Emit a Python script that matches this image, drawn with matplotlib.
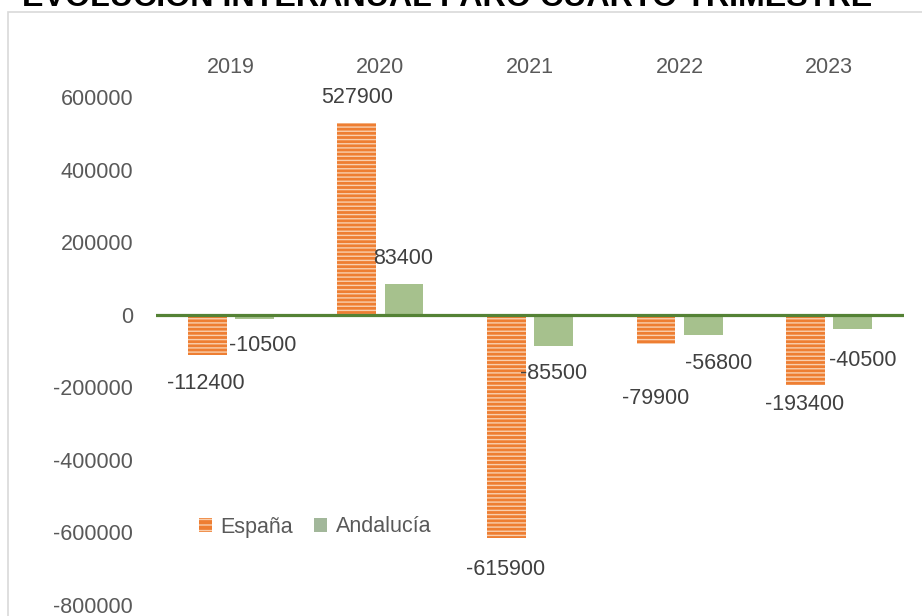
import matplotlib
matplotlib.use("Agg")
import matplotlib.pyplot as plt
from matplotlib.patches import Rectangle, Patch
import numpy as np

anios = ["2019", "2020", "2021", "2022", "2023"]
espana = [-112400, 527900, -615900, -79900, -193400]
andalucia = [-10500, 83400, -85500, -56800, -40500]
titulo = "EVOLUCIÓN INTERANUAL PARO CUARTO TRIMESTRE"

# desplazamiento de etiquetas (px) respecto al extremo de cada barra
desp_esp = [(-1, -28), (0, 26), (-1, -31), (0, -55), (-1, -20)]
desp_and = [(8, -27), (-1, 26), (0, -28), (15, -28), (10, -31)]

W, H = 922, 616
plt.rcParams['font.family'] = ['Liberation Sans', 'DejaVu Sans']
plt.rcParams['hatch.linewidth'] = 1.0

fig = plt.figure(figsize=(W / 100, H / 100), dpi=100)
ax = fig.add_axes([156 / W, (H - 605) / H, (904 - 156) / W, (605 - 97) / H])

x = np.arange(len(anios))
ancho = 0.26
sep = 0.158
gris = '#595959'

b1 = ax.bar(x - sep, espana, ancho, color='#EE7E32', edgecolor='#F9CFAE',
            hatch='----', linewidth=0, zorder=2)
b2 = ax.bar(x + sep, andalucia, ancho, color='#A6C18D', linewidth=0, zorder=2)

ax.axhline(0, color='#548235', lw=2.3, zorder=3)

for barras, vals, desp in [(b1, espana, desp_esp), (b2, andalucia, desp_and)]:
    for b, v, (dx, dy) in zip(barras, vals, desp):
        ax.annotate(str(v), (b.get_x() + b.get_width() / 2, v),
                    xytext=(dx * 0.72, dy * 0.72), textcoords='offset points',
                    ha='center', va='center', fontsize=15.5, color='#404040')

ax.set_xlim(-0.5, len(anios) - 0.5)
ax.set_ylim(-800000, 600000)
ax.set_yticks(np.arange(-800000, 600001, 200000))
ax.set_yticklabels([str(v) for v in np.arange(-800000, 600001, 200000)])
ax.set_xticks(x)
ax.set_xticklabels(anios)
ax.xaxis.tick_top()
ax.tick_params(axis='x', length=0, pad=14, labelsize=15.5, labelcolor=gris)
ax.tick_params(axis='y', length=0, pad=16.5, labelsize=15.5, labelcolor=gris)
for s in ax.spines.values():
    s.set_visible(False)

handles = [Patch(facecolor='#EE7E32', edgecolor='#F9CFAE', hatch='---', linewidth=0),
           Patch(facecolor='#A2B79A', linewidth=0)]
fig.legend(handles, ['España', 'Andalucía'], loc='center',
           bbox_to_anchor=(315 / W, 1 - 527 / H), ncol=2, frameon=False,
           fontsize=15.5, labelcolor=gris, handlelength=0.6, handleheight=0.6,
           handletextpad=0.4, columnspacing=1.0)

# marco del gráfico
fig.add_artist(Rectangle((8 / W, -0.1), 1.2, 1 - 12 / H + 0.1,
                         transform=fig.transFigure, fill=False,
                         ec='#D9D9D9', lw=1.2))

# título (cortado por arriba en el original)
fig.text(22 / W, 1 - 6 / H, titulo, ha='left', va='baseline',
         fontsize=23.2, fontweight='bold', color='black')

fig.savefig('out.png', dpi=100)
